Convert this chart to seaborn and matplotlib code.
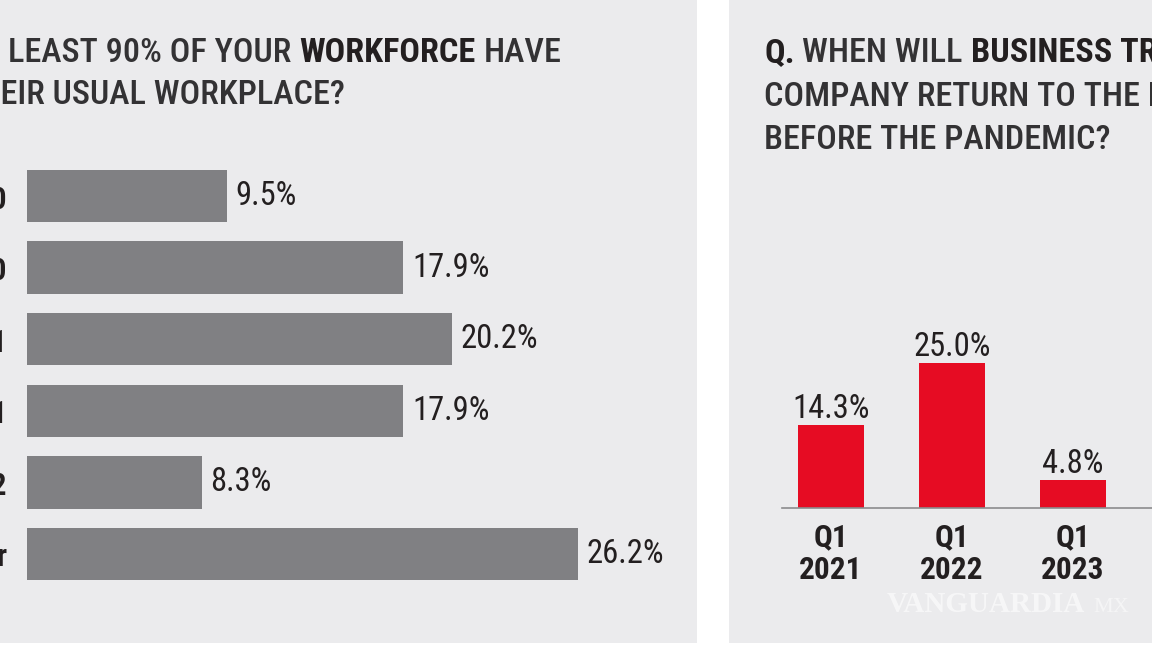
import numpy as np
import pandas as pd
import matplotlib
matplotlib.use('Agg')
import matplotlib.pyplot as plt
import seaborn as sns
from matplotlib import font_manager
from matplotlib.patches import Rectangle

# data
left_cats = ['Q3 2020', 'Q4 2020', 'Q1 2021', 'H2 2021', 'Q1 2022', 'Later']
left_vals = [9.5, 17.9, 20.2, 17.9, 8.3, 26.2]
right_cats = ['Q1\n2021', 'Q1\n2022', 'Q1\n2023']
right_vals = [14.3, 25.0, 4.8]

# colours
PANEL = '#ebebed'
GRAY = '#808083'
RED = '#e60c23'
INK = '#231f20'
TITLE = '#333234'
REG = 500     # weight for plain title text
HEAVY = 900   # weight for bold text

W, H = 1152, 648
sns.set_theme(style='white')

# pick a narrow family if one is there
names = {f.name for f in font_manager.fontManager.ttflist}
prefs = ['Roboto Condensed', 'Liberation Sans Narrow', 'DejaVu Sans Condensed', 'Roboto', 'DejaVu Sans']
FONT = next((n for n in prefs if n in names), 'DejaVu Sans')
plt.rcParams['font.family'] = [FONT, 'DejaVu Sans']

fig = plt.figure(figsize=(W / 100, H / 100), dpi=100, facecolor='white')
r = fig.canvas.get_renderer()

def fx(x):
    return x / W

def fy(y):
    return 1 - y / H

# grey panels
fig.add_artist(Rectangle((0, fy(643)), fx(697), 643 / H, transform=fig.transFigure,
                         facecolor=PANEL, edgecolor='none', zorder=-10))
fig.add_artist(Rectangle((fx(729), fy(643)), fx(W - 729), 643 / H, transform=fig.transFigure,
                         facecolor=PANEL, edgecolor='none', zorder=-10))

##-> left chart: horizontal bars
ax1 = fig.add_axes([fx(27), fy(589.8), 600 / W, 429.6 / H])
ax1.set_facecolor('none')
sns.barplot(x=left_vals, y=left_cats, orient='h', color=GRAY, saturation=1,
            width=0.73, linewidth=0, ax=ax1)
ax1.set_xlim(0, 600 / 21.03)
ax1.set_ylim(5.5, -0.5)
sns.despine(ax=ax1, left=True, bottom=True)
ax1.set_xticks([])
ax1.set_xlabel('')
ax1.tick_params(axis='y', length=0, pad=14.4)
for lab in ax1.get_yticklabels():
    lab.set_fontweight(HEAVY)
    lab.set_fontsize(22)
    lab.set_color(INK)
for i, v in enumerate(left_vals):
    ax1.annotate(f'{v:.1f}%', (v, i), xytext=(9, 0), textcoords='offset pixels',
                 ha='left', va='center', fontsize=23.5, fontweight='normal', color=INK)

##-> right chart: vertical bars
ax2 = fig.add_axes([fx(782), fy(508), (W - 782) / W, 308 / H])
ax2.set_facecolor('none')
sns.barplot(x=right_cats, y=right_vals, color=RED, saturation=1, width=0.545,
            linewidth=0, ax=ax2)
ax2.set_xlim(-0.405, (1152 - 831) / 121)
ax2.set_ylim(0, 308 / 5.8)
sns.despine(ax=ax2, left=True)
ax2.spines['bottom'].set_color('#8c8c8e')
ax2.spines['bottom'].set_linewidth(1.2)
ax2.set_yticks([])
ax2.set_ylabel('')
ax2.tick_params(axis='x', length=0, pad=10)
for lab in ax2.get_xticklabels():
    lab.set_fontweight(HEAVY)
    lab.set_fontsize(22.5)
    lab.set_color(INK)
    lab.set_linespacing(1.12)
for i, v in enumerate(right_vals):
    ax2.annotate(f'{v:.1f}%', (i, v), xytext=(0, 7), textcoords='offset pixels',
                 ha='center', va='baseline', fontsize=23.5, fontweight='normal', color=INK)

##-> titles with mixed weights
def text_w(s, size, bold):
    t = fig.text(0, 0, s, fontsize=size, fontweight=HEAVY if bold else REG)
    w = t.get_window_extent(r).width
    t.remove()
    return w

def gap_w(size):
    return text_w('A A', size, False) - text_w('AA', size, False)

def line_w(pieces, size):
    return sum(text_w(s, size, b) for s, b in pieces) + gap_w(size) * (len(pieces) - 1)

def draw_line(x, y, pieces, size):
    gap = gap_w(size)
    for s, b in pieces:
        fig.text(fx(x), fy(y), s, fontsize=size, va='baseline',
                 fontweight=HEAVY if b else REG, color=INK if b else TITLE)
        x += text_w(s, size, b) + gap

seen = [('LEAST 90% OF YOUR', False), ('WORKFORCE', True), ('HAVE', False)]
tsize = 22 * 552 / line_w(seen, 22)

pre = [('Q.', True), ('WHEN WILL AT', False)]
pre_w = line_w(pre, tsize) + gap_w(tsize)
draw_line(8 - pre_w, 62, pre + seen, tsize)
draw_line(1 - text_w('RETURNED TO TH', tsize, False), 104,
          [('RETURNED TO THEIR USUAL WORKPLACE?', False)], tsize)

draw_line(764, 62, [('Q.', True), ('WHEN WILL', False), ('BUSINESS TRAVEL', True),
                    ('AT YOUR', False)], tsize)
draw_line(764, 106, [('COMPANY RETURN TO THE LEVEL IT WAS', False)], tsize)
draw_line(764, 149, [('BEFORE THE PANDEMIC?', False)], tsize)

# faint watermark
fig.text(fx(887), fy(612), 'VANGUARDIA', family='Liberation Serif', fontweight='bold',
         fontsize=21, color='white', alpha=0.6, ha='left', va='baseline')
fig.text(fx(1093), fy(612), 'MX', family='Liberation Serif', fontsize=16,
         color='white', alpha=0.5, ha='left', va='baseline')

fig.savefig('out.png', dpi=100, facecolor='white')
